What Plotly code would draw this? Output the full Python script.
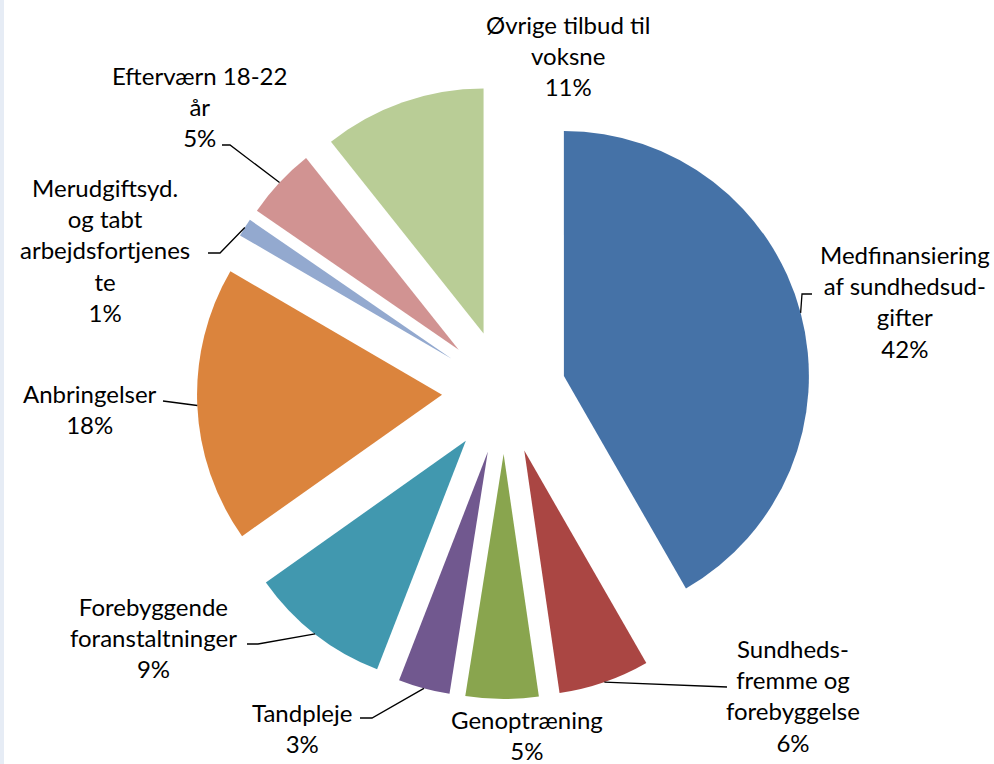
import math
import plotly.graph_objects as go

# ---- data ----
categories = [
    "Medfinansiering<br>af sundhedsud-<br>gifter",
    "Sundheds-<br>fremme og<br>forebyggelse",
    "Genoptræning",
    "Tandpleje",
    "Forebyggende<br>foranstaltninger",
    "Anbringelser",
    "Merudgiftsyd.<br>og tabt<br>arbejdsfortjenes<br>te",
    "Efterværn 18-22<br>år",
    "Øvrige tilbud til<br>voksne",
]
values = [41.7, 6.0, 4.8, 3.4, 9.3, 18.2, 1.2, 4.7, 10.7]
colors = ["#4572A7", "#AA4643", "#89A54E", "#71588F", "#4198AF",
          "#DB843D", "#93A9CF", "#D19392", "#B9CD96"]

# ---- layout (pixels) ----
W, H = 994, 764
CX, CY = 504, 392          # pie centre
R = 245                    # pie radius
PULL_PX = 62               # explosion distance
pull = PULL_PX / R
half = R * (1 + pull)

label_pos = [(905, 301), (793, 695), (527, 735), (302, 728), (153, 637),
             (90, 409), (105, 250), (199, 106), (568, 56)]
leader_pts = [[(802, 294), (812, 294)], [(727, 687)], None,
              [(372, 718), (360, 718)], [(258, 644), (247, 644)],
              [(163, 401)], [(220, 253), (208, 253)],
              [(230, 145), (222, 145)], None]

def px(x):
    return x / W

def py(y):
    return 1 - y / H

fig = go.Figure(go.Pie(
    labels=[c.replace("<br>", " ") for c in categories],
    values=values,
    sort=False,
    direction="clockwise",
    rotation=0,
    pull=[pull] * len(values),
    marker=dict(colors=colors, line=dict(width=0)),
    textinfo="none",
    showlegend=False,
    domain=dict(x=[px(CX - half), px(CX + half)],
                y=[py(CY + half), py(CY - half)]),
))

total = sum(values)
annotations = []
shapes = []
cum = 0
for i, (cat, v) in enumerate(zip(categories, values)):
    mid = (cum + v / 2) / total * 2 * math.pi
    cum += v
    ux, uy = math.sin(mid), -math.cos(mid)
    lx, ly = label_pos[i]
    annotations.append(dict(
        x=px(lx), y=py(ly), xref="paper", yref="paper",
        text=f"{cat}<br>{round(v / total * 100)}%",
        showarrow=False, xanchor="center", yanchor="middle", align="center",
        font=dict(family="Lato", size=24, color="#000000"),
    ))
    if leader_pts[i]:
        sx = CX + (PULL_PX + R) * ux
        sy = CY + (PULL_PX + R) * uy
        pts = [(sx, sy)] + leader_pts[i]
        path = "M " + " L ".join(f"{px(a):.5f},{py(b):.5f}" for a, b in pts)
        shapes.append(dict(type="path", path=path, xref="paper", yref="paper",
                           line=dict(color="#000000", width=1.3)))

# faint spreadsheet strip at the left edge
shapes.append(dict(type="rect", xref="paper", yref="paper",
                   x0=0, x1=px(4), y0=0, y1=1,
                   fillcolor="#E6ECF5", line=dict(width=0), layer="below"))

fig.update_layout(
    width=W, height=H,
    margin=dict(l=0, r=0, t=0, b=0),
    paper_bgcolor="#FFFFFF",
    plot_bgcolor="#FFFFFF",
    annotations=annotations,
    shapes=shapes,
)

fig.write_html("out.html", config={"displayModeBar": False},
               post_script="document.body.style.margin='0';")
